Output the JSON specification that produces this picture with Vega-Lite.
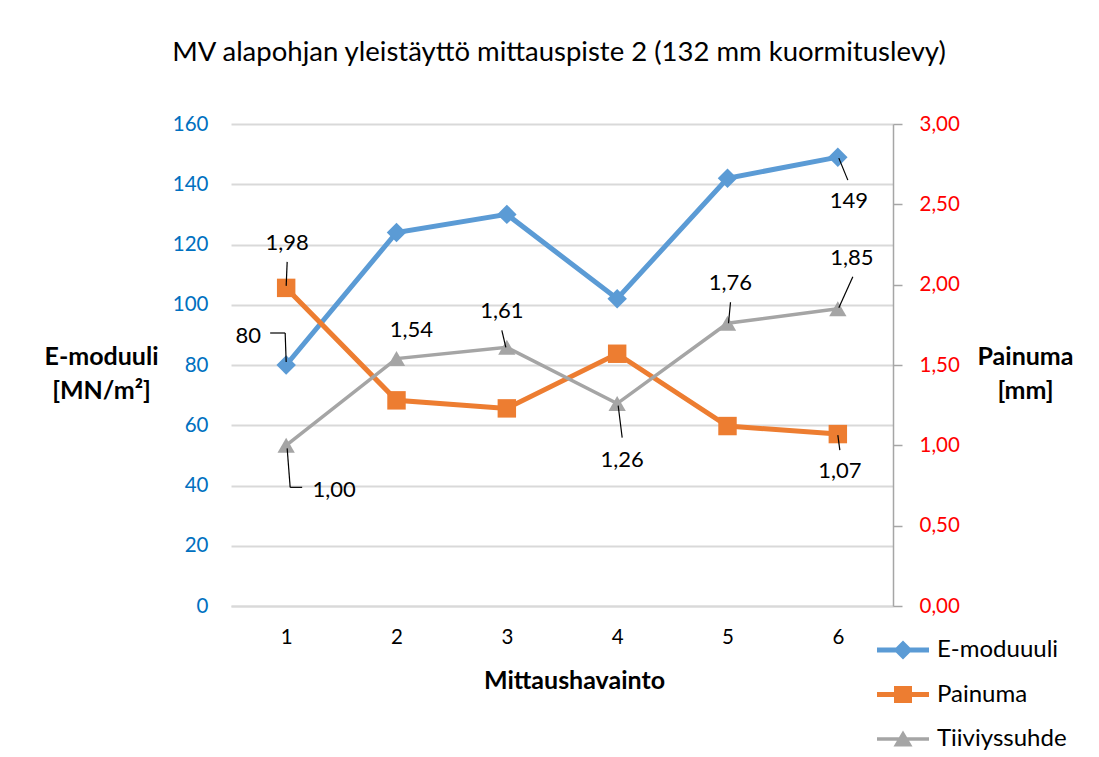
{
  "$schema": "https://vega.github.io/schema/vega-lite/v6.json",
  "width": 662,
  "height": 482,
  "autosize": "none",
  "padding": {"left": 231, "top": 124, "right": 206, "bottom": 151},
  "background": "white",
  "config": {
    "font": "Lato",
    "view": {"stroke": null},
    "locale": {"number": {"decimal": ",", "thousands": " ", "grouping": [3], "currency": ["", " €"]}},
    "axis": {"labelFont": "Lato", "titleFont": "Lato"},
    "text": {"font": "Lato", "fontSize": 22, "color": "black", "align": "center", "baseline": "middle"},
    "rule": {"color": "black", "strokeWidth": 1.2}
  },
  "title": {
    "text": "MV alapohjan yleistäyttö mittauspiste 2 (132 mm kuormituslevy)",
    "frame": "group", "anchor": "middle", "offset": 26, "baseline": "alphabetic",
    "fontSize": 27.5, "fontWeight": "normal", "color": "black", "font": "Lato", "dx": -3
  },
  "data": {"values": [
    {"n": 1, "series": "E-moduuuli", "value": 80},
    {"n": 2, "series": "E-moduuuli", "value": 124},
    {"n": 3, "series": "E-moduuuli", "value": 130},
    {"n": 4, "series": "E-moduuuli", "value": 102},
    {"n": 5, "series": "E-moduuuli", "value": 142},
    {"n": 6, "series": "E-moduuuli", "value": 149},
    {"n": 1, "series": "Painuma", "value": 1.98},
    {"n": 2, "series": "Painuma", "value": 1.28},
    {"n": 3, "series": "Painuma", "value": 1.23},
    {"n": 4, "series": "Painuma", "value": 1.57},
    {"n": 5, "series": "Painuma", "value": 1.12},
    {"n": 6, "series": "Painuma", "value": 1.07},
    {"n": 1, "series": "Tiiviyssuhde", "value": 1.00},
    {"n": 2, "series": "Tiiviyssuhde", "value": 1.54},
    {"n": 3, "series": "Tiiviyssuhde", "value": 1.61},
    {"n": 4, "series": "Tiiviyssuhde", "value": 1.26},
    {"n": 5, "series": "Tiiviyssuhde", "value": 1.76},
    {"n": 6, "series": "Tiiviyssuhde", "value": 1.85}
  ]},
  "encoding": {
    "x": {
      "field": "n", "type": "quantitative",
      "scale": {"domain": [0.5, 6.5], "nice": false, "zero": false},
      "axis": {
        "values": [1, 2, 3, 4, 5, 6], "format": "d", "title": "Mittaushavainto",
        "grid": false, "domain": true, "domainColor": "#D9D9D9", "domainWidth": 2,
        "ticks": false, "tickSize": 0, "labelPadding": 21, "labelFontSize": 20.5,
        "labelColor": "black", "labelFlush": false,
        "titleFontWeight": "bold", "titleFontSize": 25, "titleColor": "black",
        "titleX": 343, "titleY": 74, "titleBaseline": "middle"
      }
    }
  },
  "layer": [
    {
      "encoding": {
        "y": {
          "field": "value", "type": "quantitative",
          "scale": {"domain": [0, 160], "nice": false},
          "axis": {
            "orient": "left", "values": [0, 20, 40, 60, 80, 100, 120, 140, 160],
            "grid": true, "gridColor": "#D9D9D9", "gridWidth": 2,
            "domain": false, "ticks": false, "tickSize": 0, "labelPadding": 23,
            "labelColor": "#0070C0", "labelFontSize": 20.5,
            "title": ["E-moduuli", "[MN/m²]"], "titleAngle": 0, "titleAlign": "center",
            "titleBaseline": "middle", "titleX": -130, "titleY": 232,
            "titleFontWeight": "bold", "titleFontSize": 25, "titleColor": "black", "titleLineHeight": 34
          }
        }
      },
      "layer": [
        {
          "transform": [{"filter": "datum.series === 'E-moduuuli'"}],
          "mark": {"type": "line", "strokeWidth": 5},
          "encoding": {
            "color": {
              "field": "series", "type": "nominal",
              "scale": {"domain": ["E-moduuuli", "Painuma", "Tiiviyssuhde"], "range": ["#5B9BD5", "#ED7D31", "#A5A5A5"]},
              "legend": {
                "orient": "none", "legendX": 660, "legendY": 514, "title": null, "padding": 0,
                "symbolSize": 400, "labelOffset": 22, "rowPadding": 20.5,
                "labelFontSize": 24, "labelColor": "black", "labelFont": "Lato", "labelBaseline": "middle",
                "encode": {"symbols": {"update": {
                  "shape": {"signal": "datum.value === 'E-moduuuli' ? 'M-2.6,-0.24H2.6V0.24H-2.6Z M0,-0.95L0.95,0L0,0.95L-0.95,0Z' : datum.value === 'Painuma' ? 'M-2.6,-0.24H2.6V0.24H-2.6Z M-0.9,-0.85H0.9V0.85H-0.9Z' : 'M-2.6,-0.17H2.6V0.17H-2.6Z M0,-0.85L0.95,0.75H-0.95Z'"},
                  "fill": {"scale": "color", "field": "value"},
                  "stroke": {"value": "transparent"},
                  "strokeWidth": {"value": 0},
                  "opacity": {"value": 1}
                }}}
              }
            }
          }
        },
        {
          "transform": [{"filter": "datum.series === 'E-moduuuli'"}],
          "mark": {"type": "point", "shape": "diamond", "filled": true, "size": 380, "color": "#5B9BD5", "opacity": 1}
        },
        {
          "transform": [{"filter": "datum.series === 'E-moduuuli' && datum.n === 1"}],
          "mark": {"type": "text", "dx": -38, "dy": -29},
          "encoding": {"text": {"field": "value", "format": "d"}}
        },
        {
          "transform": [{"filter": "datum.series === 'E-moduuuli' && datum.n === 6"}],
          "mark": {"type": "text", "dx": 11, "dy": 44},
          "encoding": {"text": {"field": "value", "format": "d"}}
        },
        {
          "transform": [{"filter": "datum.series === 'E-moduuuli' && datum.n === 1"}],
          "mark": {"type": "rule", "xOffset": -16, "yOffset": -32, "x2Offset": -1, "y2Offset": -32},
          "encoding": {"x2": {"field": "n"}, "y2": {"field": "value"}}
        },
        {
          "transform": [{"filter": "datum.series === 'E-moduuuli' && datum.n === 1"}],
          "mark": {"type": "rule", "xOffset": -1, "yOffset": -32, "x2Offset": 0, "y2Offset": -3},
          "encoding": {"x2": {"field": "n"}, "y2": {"field": "value"}}
        },
        {
          "transform": [{"filter": "datum.series === 'E-moduuuli' && datum.n === 6"}],
          "mark": {"type": "rule", "xOffset": 1, "yOffset": 1, "x2Offset": 10, "y2Offset": 23},
          "encoding": {"x2": {"field": "n"}, "y2": {"field": "value"}}
        }
      ]
    },
    {
      "encoding": {
        "y": {
          "field": "value", "type": "quantitative",
          "scale": {"domain": [0, 3], "nice": false},
          "axis": {
            "orient": "right", "values": [0, 0.5, 1, 1.5, 2, 2.5, 3], "format": ".2f",
            "grid": false, "domain": true, "domainColor": "#A6A6A6", "domainWidth": 1.5,
            "ticks": true, "tickColor": "#A6A6A6", "tickWidth": 1.5, "tickSize": 9,
            "labelPadding": 17, "labelColor": "#FF0000", "labelFontSize": 20.5,
            "title": ["Painuma", "[mm]"], "titleAngle": 0, "titleAlign": "center",
            "titleBaseline": "middle", "titleX": 132, "titleY": 232,
            "titleFontWeight": "bold", "titleFontSize": 25, "titleColor": "black", "titleLineHeight": 34
          }
        }
      },
      "layer": [
        {
          "transform": [{"filter": "datum.series === 'Painuma'"}],
          "mark": {"type": "line", "strokeWidth": 5},
          "encoding": {"color": {"field": "series", "type": "nominal"}}
        },
        {
          "transform": [{"filter": "datum.series === 'Painuma'"}],
          "mark": {"type": "point", "shape": "square", "filled": true, "size": 340, "color": "#ED7D31", "opacity": 1}
        },
        {
          "transform": [{"filter": "datum.series === 'Tiiviyssuhde'"}],
          "mark": {"type": "line", "strokeWidth": 3.5},
          "encoding": {"color": {"field": "series", "type": "nominal"}}
        },
        {
          "transform": [{"filter": "datum.series === 'Tiiviyssuhde'"}],
          "mark": {"type": "point", "shape": "triangle-up", "filled": true, "size": 300, "color": "#A5A5A5", "opacity": 1}
        },
        {
          "transform": [{"filter": "datum.series === 'Painuma' && datum.n === 1"}],
          "mark": {"type": "text", "dx": 1, "dy": -45},
          "encoding": {"text": {"field": "value", "format": ".2f"}}
        },
        {
          "transform": [{"filter": "datum.series === 'Painuma' && datum.n === 6"}],
          "mark": {"type": "text", "dx": 2, "dy": 37},
          "encoding": {"text": {"field": "value", "format": ".2f"}}
        },
        {
          "transform": [{"filter": "datum.series === 'Tiiviyssuhde' && datum.n === 1"}],
          "mark": {"type": "text", "dx": 48, "dy": 45},
          "encoding": {"text": {"field": "value", "format": ".2f"}}
        },
        {
          "transform": [{"filter": "datum.series === 'Tiiviyssuhde' && datum.n === 2"}],
          "mark": {"type": "text", "dx": 15, "dy": -29},
          "encoding": {"text": {"field": "value", "format": ".2f"}}
        },
        {
          "transform": [{"filter": "datum.series === 'Tiiviyssuhde' && datum.n === 3"}],
          "mark": {"type": "text", "dx": -5, "dy": -36},
          "encoding": {"text": {"field": "value", "format": ".2f"}}
        },
        {
          "transform": [{"filter": "datum.series === 'Tiiviyssuhde' && datum.n === 4"}],
          "mark": {"type": "text", "dx": 5, "dy": 56},
          "encoding": {"text": {"field": "value", "format": ".2f"}}
        },
        {
          "transform": [{"filter": "datum.series === 'Tiiviyssuhde' && datum.n === 5"}],
          "mark": {"type": "text", "dx": 3, "dy": -40},
          "encoding": {"text": {"field": "value", "format": ".2f"}}
        },
        {
          "transform": [{"filter": "datum.series === 'Tiiviyssuhde' && datum.n === 6"}],
          "mark": {"type": "text", "dx": 14, "dy": -51},
          "encoding": {"text": {"field": "value", "format": ".2f"}}
        },
        {
          "transform": [{"filter": "datum.series === 'Painuma' && datum.n === 1"}],
          "mark": {"type": "rule", "xOffset": 1, "yOffset": -26, "x2Offset": 0, "y2Offset": -2},
          "encoding": {"x2": {"field": "n"}, "y2": {"field": "value"}}
        },
        {
          "transform": [{"filter": "datum.series === 'Painuma' && datum.n === 6"}],
          "mark": {"type": "rule", "xOffset": 0, "yOffset": 1, "x2Offset": 2, "y2Offset": 16},
          "encoding": {"x2": {"field": "n"}, "y2": {"field": "value"}}
        },
        {
          "transform": [{"filter": "datum.series === 'Tiiviyssuhde' && datum.n === 1"}],
          "mark": {"type": "rule", "xOffset": 1, "yOffset": 3, "x2Offset": 4, "y2Offset": 42},
          "encoding": {"x2": {"field": "n"}, "y2": {"field": "value"}}
        },
        {
          "transform": [{"filter": "datum.series === 'Tiiviyssuhde' && datum.n === 1"}],
          "mark": {"type": "rule", "xOffset": 4, "yOffset": 42, "x2Offset": 16, "y2Offset": 42},
          "encoding": {"x2": {"field": "n"}, "y2": {"field": "value"}}
        },
        {
          "transform": [{"filter": "datum.series === 'Tiiviyssuhde' && datum.n === 3"}],
          "mark": {"type": "rule", "xOffset": -5, "yOffset": -17, "x2Offset": -1, "y2Offset": 0},
          "encoding": {"x2": {"field": "n"}, "y2": {"field": "value"}}
        },
        {
          "transform": [{"filter": "datum.series === 'Tiiviyssuhde' && datum.n === 4"}],
          "mark": {"type": "rule", "xOffset": 1, "yOffset": 2, "x2Offset": 5, "y2Offset": 34},
          "encoding": {"x2": {"field": "n"}, "y2": {"field": "value"}}
        },
        {
          "transform": [{"filter": "datum.series === 'Tiiviyssuhde' && datum.n === 5"}],
          "mark": {"type": "rule", "xOffset": 3, "yOffset": -21, "x2Offset": 1, "y2Offset": 0},
          "encoding": {"x2": {"field": "n"}, "y2": {"field": "value"}}
        },
        {
          "transform": [{"filter": "datum.series === 'Tiiviyssuhde' && datum.n === 6"}],
          "mark": {"type": "rule", "xOffset": 15, "yOffset": -32, "x2Offset": 1, "y2Offset": -1},
          "encoding": {"x2": {"field": "n"}, "y2": {"field": "value"}}
        }
      ]
    }
  ],
  "resolve": {"scale": {"y": "independent"}}
}
